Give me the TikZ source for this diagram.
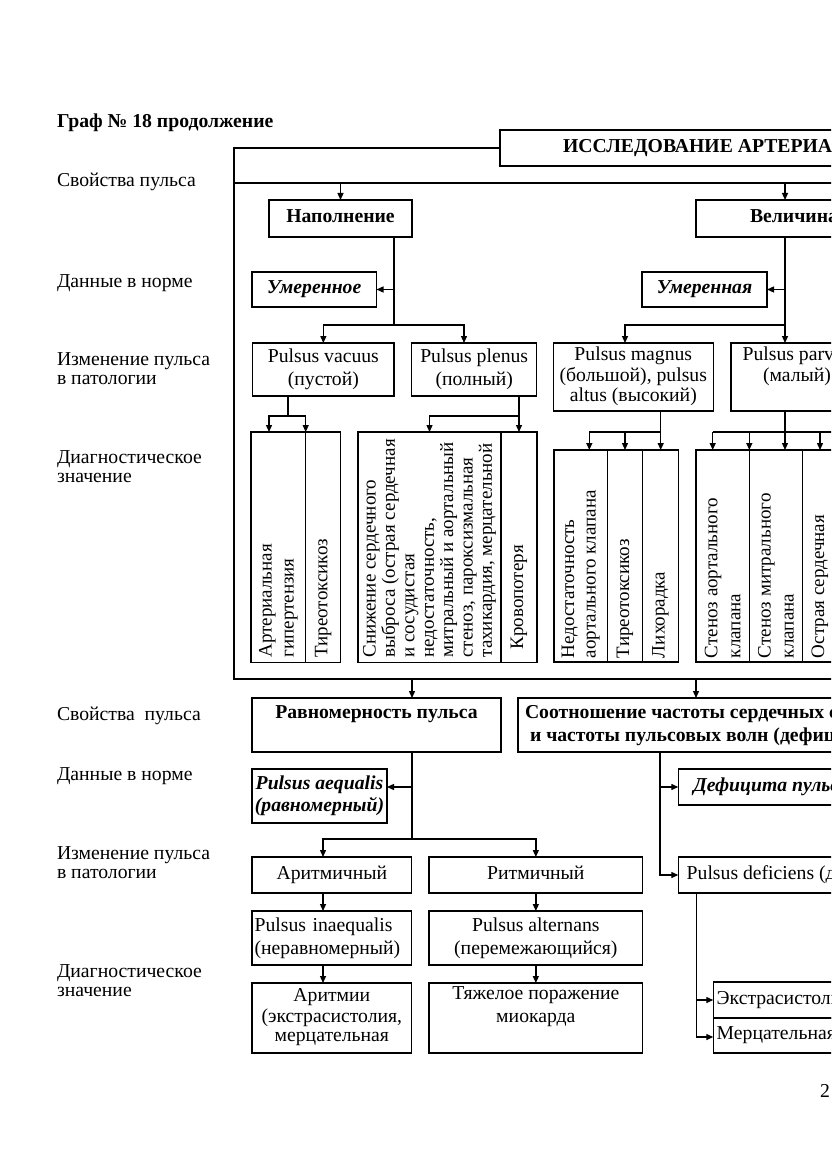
\documentclass[tikz,border=0pt]{standalone}
\usepackage{fontspec}
\usepackage{graphicx}
\setmainfont{Liberation Serif}
\usetikzlibrary{arrows.meta}
\newcommand\fR{\fontsize{19.7}{22}\selectfont}
\newcommand\fB{\fontsize{19.7}{22}\selectfont\bfseries}
\newcommand\fBI{\fontsize{19.7}{22}\selectfont\bfseries\itshape}
\newcommand\fV{\fontsize{19}{22}\selectfont}
\newcommand\vl[1]{\hbox{#1}}
\newcommand\vcell[4]{\rotatebox{90}{\makebox[#1pt][l]{\hspace*{#2pt}\vbox{\fV\baselineskip=#3pt\lineskiplimit=-30pt\lineskip=0pt #4}}}}
\tikzset{
  every node/.style={font=\fR},
  box/.style={draw, line width=1.3pt, inner sep=0pt, outer sep=0pt, align=center, anchor=north west},
  lbl/.style={anchor=base west, inner sep=0pt, outer sep=0pt},
  ln/.style={line width=1.3pt},
  arr/.style={line width=1.3pt, -{Triangle[length=7pt,width=6pt]}},
}
\begin{document}
\begin{tikzpicture}[x=1pt,y=-1pt]
\useasboundingbox (0,0) rectangle (831,1174);
\clip (0,0) rectangle (831,1174);
\fill[white] (0,0) rectangle (831,1174);

% title and row labels
\node[lbl, font=\fB] (title) at (57,128) {Граф № 18 продолжение};
\node[lbl] (la1) at (57,187) {Свойства пульса};
\node[lbl] (la2) at (57,287) {Данные в норме};
\node[lbl] (la3) at (57,365) {Изменение пульса};
\node[lbl] (la3b) at (57,384) {в патологии};
\node[lbl] (la4) at (57,463) {Диагностическое};
\node[lbl] (la4b) at (57,482) {значение};
\node[lbl] (lb1) at (57,720) {Свойства\ \ пульса};
\node[lbl] (lb2) at (57,780) {Данные в норме};
\node[lbl] (lb3) at (57,859) {Изменение пульса};
\node[lbl] (lb3b) at (57,878) {в патологии};
\node[lbl] (lb4) at (57,977) {Диагностическое};
\node[lbl] (lb4b) at (57,996) {значение};
\node[lbl] (page) at (820,1097) {2};

% upper part
\node[box, anchor=west, inner xsep=63pt, minimum height=36pt, font=\fB] (issl) at (500,148) {\strut ИССЛЕДОВАНИЕ АРТЕРИАЛЬНОГО ПУЛЬСА};
\node[box, minimum width=143pt, minimum height=37pt, font=\fB] (napol) at (269,200) {\strut Наполнение};
\node[box, minimum width=196pt, minimum height=37pt, font=\fB] (velich) at (696,200) {\strut Величина};
\node[box, minimum width=124.5pt, minimum height=35pt, font=\fBI] (umer1) at (252,272) {\strut Умеренное};
\node[box, minimum width=125pt, minimum height=35pt, font=\fBI] (umer2) at (642,272) {\strut Умеренная};
\node[box, minimum width=141.3pt, minimum height=53pt, font=\fontsize{19.7}{23}\selectfont] (vac) at (252.7,343) {\strut Pulsus vacuus\\(пустой)\strut};
\node[box, minimum width=125pt, minimum height=53pt, font=\fontsize{19.7}{23}\selectfont] (plen) at (411.7,343) {\strut Pulsus plenus\\(полный)\strut};
\node[box, minimum width=160pt, minimum height=68pt, font=\fontsize{19.7}{20.5}\selectfont] (magn) at (553.3,343) {\strut Pulsus magnus\\(большой), pulsus\\altus (высокий)\strut};
\node[box, minimum width=132pt, minimum height=68pt, font=\fontsize{19.7}{21}\selectfont] (parv) at (731,343) {\strut Pulsus parvus\\(малый)\\\strut};

\node[box, minimum width=54.7pt, minimum height=230.5pt] (art) at (251,432) {\vcell{230.5}{5}{22}{\vl{Артериальная}\vl{гипертензия}}};
\node[box, minimum width=35pt, minimum height=230.5pt] (tir1) at (305.7,432) {\vcell{230.5}{5}{22}{\vl{Тиреотоксикоз}}};
\node[box, minimum width=143pt, minimum height=230.5pt] (sn) at (358,432) {\vcell{230.5}{5}{19.4}{\vl{Снижение сердечного}\vl{выброса (острая сердечная}\vl{и сосудистая}\vl{недостаточность,}\vl{митральный и аортальный}\vl{стеноз, пароксизмальная}\vl{тахикардия, мерцательной}}};
\node[box, minimum width=36pt, minimum height=230.5pt] (krov) at (501,432) {\vcell{230.5}{13}{22}{\vl{Кровопотеря}}};
\node[box, minimum width=53.3pt, minimum height=212pt] (ned) at (554,450) {\vcell{212}{4}{21.6}{\vl{Недостаточность}\vl{аортального клапана}}};
\node[box, minimum width=35.4pt, minimum height=212pt] (tir2) at (607.3,450) {\vcell{212}{4}{22}{\vl{Тиреотоксикоз}}};
\node[box, minimum width=35.6pt, minimum height=212pt] (lih) at (642.7,450) {\vcell{212}{4}{22}{\vl{Лихорадка}}};
\node[box, minimum width=53.3pt, minimum height=212pt] (sten1) at (696,450) {\vcell{212}{4}{23}{\vl{Стеноз аортального}\vl{клапана}}};
\node[box, minimum width=53.4pt, minimum height=212pt] (sten2) at (749.3,450) {\vcell{212}{4}{23}{\vl{Стеноз митрального}\vl{клапана}}};
\node[box, minimum width=53.3pt, minimum height=212pt] (ostr) at (802.7,450) {\vcell{212}{4}{23}{\vl{Острая сердечная}\vl{}}};

% frame
\coordinate (fTL) at (234,148);
\coordinate (fBL) at (234,679);
\coordinate (fBR) at (845,679);
\coordinate (fML) at (234,183);
\coordinate (fMR) at (845,183);
\draw[ln] (issl.west) -- (fTL) -- (fBL) -- (fBR);
\draw[ln] (fML) -- (fMR);

\coordinate (vx) at (785,183);
\draw[arr] (fML -| napol.north) -- (napol.north);
\draw[arr] (vx) -- (vx |- velich.north);

\coordinate (nj) at (394,325);
\coordinate (plj) at (464,325);
\draw[ln] (napol.south -| nj) -- (nj);
\draw[arr] (umer1.east -| nj) -- (umer1.east);
\draw[arr] (nj) -| (vac.north);
\draw[arr] (nj) -- (plj) -- (plj |- plen.north);

\coordinate (mj) at (625,325);
\draw[arr] (vx |- velich.south) -- (vx |- parv.north);
\draw[arr] (umer2.east -| vx) -- (umer2.east);
\draw[arr] (vx |- mj) -- (mj) -- (mj |- magn.north);

\coordinate (vj) at (288,416);
\coordinate (vj1) at (269,416);
\draw[ln] (vac.south -| vj) -- (vj);
\draw[arr] (vj) -- (vj1) -- (vj1 |- art.north);
\draw[arr] (vj) -| (art.north east);

\coordinate (pj) at (519,416);
\draw[ln] (plen.south -| pj) -- (pj);
\draw[arr] (pj) -| (sn.north);
\draw[arr] (pj) -- (pj |- krov.north);

\coordinate (gj) at (660.7,432);
\coordinate (gj1) at (589.3,432);
\draw[ln] (magn.south -| gj) -- (gj);
\draw[arr] (gj) -- (gj |- lih.north);
\draw[arr] (gj -| tir2.north) -- (tir2.north);
\draw[arr] (gj) -- (gj1) -- (gj1 |- ned.north);

\coordinate (qj) at (785,432);
\coordinate (qjL) at (712.7,432);
\coordinate (qjR) at (845,432);
\coordinate (qj4) at (820,432);
\draw[ln] (parv.south -| qj) -- (qj);
\draw[ln] (qjL) -- (qjR);
\draw[arr] (qjL) -- (qjL |- sten1.north);
\draw[arr] (sten1.north east |- qj) -- (sten1.north east);
\draw[arr] (qj) -- (qj |- sten2.north);
\draw[arr] (qj4) -- (qj4 |- ostr.north);

% lower part
\node[box, minimum width=249pt, minimum height=54pt, font=\fontsize{19.7}{23}\selectfont\bfseries] (ravn) at (252,698) {\strut Равномерность пульса\\\strut};
\node[box, inner xsep=7pt, minimum height=54pt, align=left, font=\fontsize{19.7}{23}\selectfont\bfseries] (sootn) at (518,698) {\strut Соотношение частоты сердечных сокращений\\\hspace*{5pt}и частоты пульсовых волн (дефицит пульса)\strut};
\node[box, minimum width=135pt, minimum height=54pt, font=\fontsize{19.7}{21.7}\selectfont\bfseries\itshape] (aeq) at (252,769) {\strut Pulsus aequalis\\(равномерный)\strut};
\node[box, inner xsep=15pt, minimum height=36pt, font=\fBI] (defic) at (678.3,769) {\strut Дефицита пульса нет};
\node[box, minimum width=159.7pt, minimum height=36pt] (arit) at (252,857) {\strut Аритмичный};
\node[box, minimum width=213.7pt, minimum height=36pt] (ritm) at (429,857) {\strut Ритмичный};
\node[box, inner xsep=8.4pt, minimum height=36pt] (pdef) at (678.3,857) {\strut Pulsus deficiens (дефицит пульса)};
\node[box, minimum width=159.7pt, minimum height=54pt, text width=154.5pt, align=left, font=\fontsize{19.7}{23}\selectfont] (inaeq) at (252,911) {\strut Pulsus inaequalis\\(неравномерный)\strut};
\node[box, minimum width=213.7pt, minimum height=54pt, font=\fontsize{19.7}{23}\selectfont] (alt) at (429,911) {\strut Pulsus alternans\\(перемежающийся)\strut};
\node[box, minimum width=159.7pt, minimum height=70pt, font=\fontsize{19.7}{19.5}\selectfont] (aritm) at (252,983) {\strut Аритмии\\(экстрасистолия,\\мерцательная\strut};
\node[box, minimum width=213.7pt, minimum height=70pt, font=\fontsize{19.7}{23}\selectfont] (tyazh) at (429,983) {\strut Тяжелое поражение\\миокарда\\\strut};
\node[box, inner xsep=3.4pt, minimum height=36pt] (ekstr) at (713.3,982) {\strut Экстрасистолия};
\node[box, inner xsep=3.4pt, minimum height=35pt] (merc) at (713.3,1018) {\strut Мерцательная аритмия};

\coordinate (rj) at (412,679);
\coordinate (sj) at (696,679);
\draw[arr] (rj) -- (rj |- ravn.north);
\draw[arr] (sj) -- (sj |- sootn.north);

\coordinate (rvj) at (412,839);
\coordinate (aqj) at (412,787);
\coordinate (arj) at (323,839);
\draw[ln] (ravn.south -| rvj) -- (rvj);
\draw[arr] (aqj) -- (aqj -| aeq.east);
\draw[arr] (rvj) -- (arj) -- (arj |- arit.north);
\draw[arr] (rvj) -| (ritm.north);
\draw[arr] (arit.south -| arj) -- (inaeq.north -| arj);
\draw[arr] (inaeq.south -| arj) -- (aritm.north -| arj);
\draw[arr] (ritm.south) -- (alt.north);
\draw[arr] (alt.south) -- (tyazh.north);

\coordinate (soj) at (660,875);
\draw[arr] (sootn.south -| soj) -- (soj) -- (soj -| pdef.west);
\draw[arr] (defic.west -| soj) -- (defic.west);
\coordinate (dj) at (696.7,1037);
\draw[arr] (pdef.south -| dj) -- (dj) -- (dj -| merc.west);
\draw[arr] (ekstr.west -| dj) -- (ekstr.west);
\end{tikzpicture}
\end{document}
